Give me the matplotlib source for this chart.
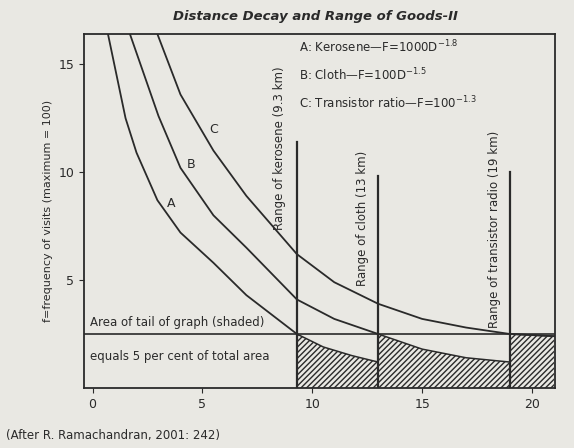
import numpy as np
import matplotlib.pyplot as plt

# points
a_x = [0.7, 1.5, 2, 2.95, 4, 5.5, 7, 9.3]
a_y = [16.4, 12.5, 10.9, 8.7, 7.2, 5.8, 4.3, 2.5]
b_x = [1.7, 3, 4, 5.5, 7, 9.3, 11, 13]
b_y = [16.4, 12.6, 10.2, 8.0, 6.5, 4.1, 3.2, 2.5]
c_x = [2.95, 4, 5.5, 7, 9.3, 11, 13, 15, 17, 19, 21]
c_y = [16.4, 13.6, 11.0, 8.9, 6.2, 4.9, 3.9, 3.2, 2.8, 2.5, 2.4]
tail_y = 2.5
ranges = [9.3, 13, 19]
range_tops = [11.4, 9.8, 10.0]
range_labels = ['Range of kerosene (9.3 km)', 'Range of cloth (13 km)', 'Range of transistor radio (19 km)']
label_pos = [(8.5, 14.9), (12.3, 11.0), (18.3, 11.9)]
shade_x = [[9.3, 10.5, 11.8, 13], [13, 15, 17, 19], [19, 21]]
shade_top = [[2.5, 1.9, 1.5, 1.2], [2.5, 1.8, 1.4, 1.2], [2.5, 2.4]]

fig = plt.figure(figsize=(5.74, 4.48), dpi=100)
fig.patch.set_facecolor('#e9e8e3')
ax = fig.add_axes([0.146, 0.134, 0.821, 0.79])
ax.set_facecolor('#e9e8e3')
ink = '#2a2a2a'

for xs, ys, lab, (lx, ly) in [(a_x, a_y, 'A', (3.4, 8.4)), (b_x, b_y, 'B', (4.3, 10.2)), (c_x, c_y, 'C', (5.3, 11.8))]:
    ax.plot(xs, ys, color=ink, lw=1.3)
    ax.text(lx, ly, lab, fontsize=9, color=ink)

ax.plot([-0.4, 21], [tail_y, tail_y], color=ink, lw=1.2)
for x, top, lab, (lx, ly) in zip(ranges, range_tops, range_labels, label_pos):
    ax.plot([x, x], [0, top], color=ink, lw=1.6)
    ax.text(lx, ly, lab, rotation=90, va='top', ha='center', fontsize=8.5, color=ink)
for xs, ys in zip(shade_x, shade_top):
    ax.fill_between(xs, 0, ys, facecolor='none', edgecolor=ink, hatch='//////', lw=0)
    ax.plot(xs, ys, color=ink, lw=1.1)

ax.text(-0.1, 2.85, 'Area of tail of graph (shaded)', fontsize=8.5, color=ink)
ax.text(-0.1, 1.3, 'equals 5 per cent of total area', fontsize=8.5, color=ink)
ax.text(9.4, 14.5, 'A: Kerosene—F=1000D$^{-1.8}$\n\nB: Cloth—F=100D$^{-1.5}$\n\nC: Transistor ratio—F=100$^{-1.3}$',
        fontsize=8.5, color=ink, va='center', linespacing=0.95)

ax.set_xlim(-0.4, 21.05)
ax.set_ylim(0, 16.4)
ax.set_xticks([0, 5, 10, 15, 20])
ax.set_yticks([5, 10, 15])
ax.tick_params(labelsize=9, colors=ink)
ax.set_ylabel('f=frequency of visits (maximum = 100)', fontsize=8, color=ink)
for s in ax.spines.values():
    s.set_color(ink)
    s.set_linewidth(1.3)
fig.text(0.55, 0.955, 'Distance Decay and Range of Goods-II', ha='center', fontsize=9.5,
         style='italic', weight='bold', color=ink)
fig.text(0.01, 0.02, '(After R. Ramachandran, 2001: 242)', fontsize=8.5, color=ink)
fig.savefig('out.png', dpi=100, facecolor=fig.get_facecolor())
